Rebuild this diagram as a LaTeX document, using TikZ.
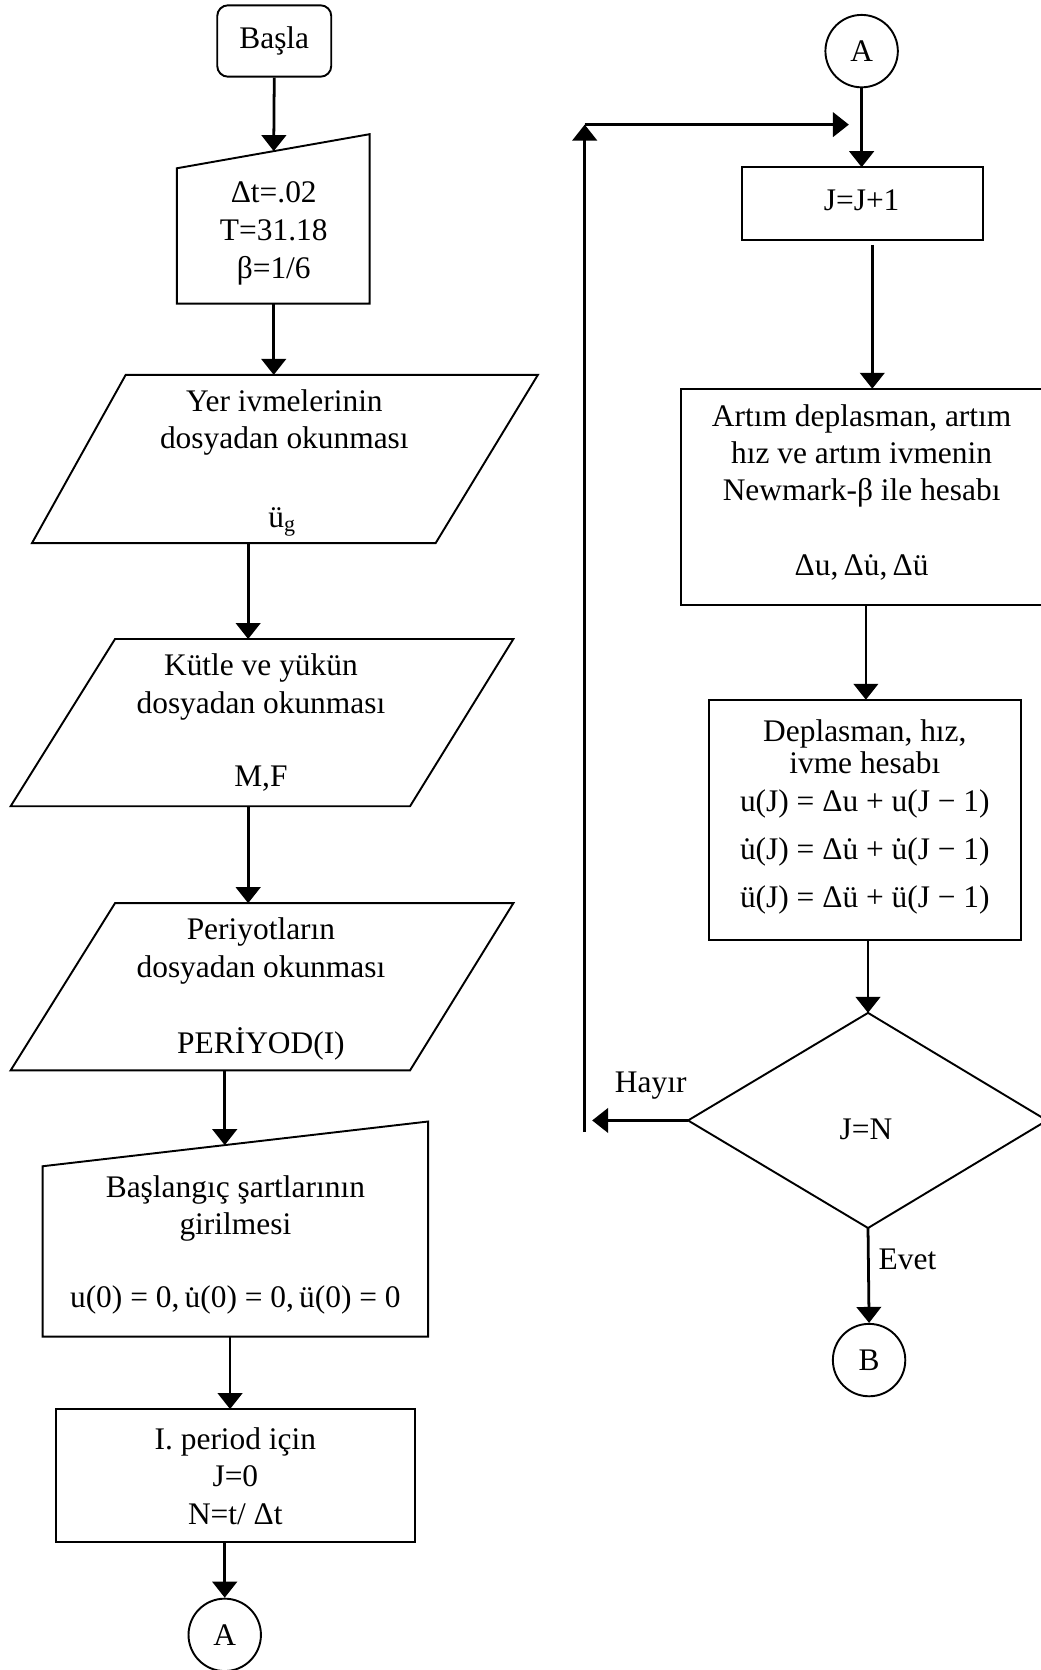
\documentclass[tikz,border=0pt]{standalone}
\usepackage{fontspec}
\setmainfont{Liberation Serif}
\usetikzlibrary{arrows.meta}
\begin{document}
\begin{tikzpicture}[x=0.5pt,y=-0.5pt,
  shp/.style={draw, line width=0.9pt},
  arr/.style={line width=1.3pt, -{Triangle[width=11.5pt,length=7.5pt]}},
  ln/.style={line width=1.3pt},
  txt/.style={align=center, inner sep=0pt, font=\fontsize{14.75pt}{17.5pt}\selectfont},
  circ/.style={draw, circle, line width=0.9pt, minimum size=34pt, inner sep=0pt, font=\fontsize{14.75pt}{17.5pt}\selectfont},
]
\useasboundingbox (0,0) rectangle (977,1568);

% ---------- left column ----------
\node[draw, rounded corners=5pt, line width=0.9pt, minimum width=53.5pt, minimum height=33.5pt, txt] (basla) at (257.5,38.5) {Başla};

% manual input 1
\draw[shp] (166,158) -- (347,126) -- (347,285) -- (166,285) -- cycle;
\coordinate (m1in) at (257,141.9);
\coordinate (m1out) at (257,285);
\node[txt, font=\fontsize{14.75pt}{17.75pt}\selectfont] (m1) at (257,219) {Δt=.02\\T=31.18\\β=1/6};

% Yer parallelogram
\draw[shp] (118,352) -- (505,352) -- (409,510) -- (30,510) -- cycle;
\coordinate (p1in) at (257,352);
\coordinate (p1out) at (233,510);
\node[txt] (p1t) at (267,397) {Yer ivmelerinin\\dosyadan okunması};
\node[txt] (p1v) at (265,490) {ü\textsubscript{g}};

% Kutle parallelogram
\draw[shp] (108,600) -- (482,600) -- (385,757) -- (10,757) -- cycle;
\coordinate (p2in) at (233,600);
\coordinate (p2out) at (233,757);
\node[txt] (p2t) at (245,645) {Kütle ve yükün\\dosyadan okunması};
\node[txt] (p2v) at (245,731) {M,F};

% Periyot parallelogram
\draw[shp] (108,848) -- (482,848) -- (385,1005) -- (10,1005) -- cycle;
\coordinate (p3in) at (233,848);
\coordinate (p3out) at (211,1005);
\node[txt] (p3t) at (245,893) {Periyotların\\dosyadan okunması};
\node[txt] (p3v) at (245,980) {PERİYOD(I)};

% manual input 2
\draw[shp] (40,1095) -- (402,1053) -- (402,1255) -- (40,1255) -- cycle;
\coordinate (m2in) at (211,1075.2);
\coordinate (m2out) at (216,1255);
\node[txt] (m2t) at (221,1135) {Başlangıç şartlarının\\girilmesi};
\node[txt] (m2v) at (221,1221) {u(0) = 0,\,u̇(0) = 0,\,ü(0) = 0};

% I. period box
\node[draw, line width=0.9pt, minimum width=168.5pt, minimum height=62.5pt, txt] (per) at (221.5,1385.5) {};
\coordinate (perin) at (216,1323);
\coordinate (perout) at (211,1448);
\node[txt] (pert) at (221,1386) {I. period için\\J=0\\N=t/ Δt};

\node[circ] (A1) at (211,1535) {A};

\draw[arr] (basla.south) -- (m1in);
\draw[arr] (m1out) -- (p1in);
\draw[arr] (p1out) -- (p2in);
\draw[arr] (p2out) -- (p3in);
\draw[arr] (p3out) -- (m2in);
\draw[arr] (m2out) -- (perin);
\draw[arr] (perout) -- (A1.north);

% ---------- right column ----------
\node[circ] (A2) at (809,48) {A};

\node[draw, line width=0.9pt, minimum width=113pt, minimum height=34pt, txt] (jj) at (810,191) {};
\node[txt] (jjt) at (809,188) {J=J+1};
\coordinate (jjin) at (809,157);
\coordinate (jjout) at (819,230);

% Artim box (cut at the right border)
\draw[shp] (995,365) -- (639,365) -- (639,568) -- (995,568);
\coordinate (arin) at (819,365);
\coordinate (arout) at (813,568);
\node[txt] (art) at (809,428) {Artım deplasman, artım\\hız ve artım ivmenin\\Newmark-β ile hesabı};
\node[txt] (arv) at (809,533) {Δu,\,Δu̇,\,Δü};

% Deplasman box
\draw[shp] (666,657) rectangle (959,883);
\coordinate (dpin) at (813,657);
\coordinate (dpout) at (815,883);
\node[txt, font=\fontsize{14.75pt}{15pt}\selectfont] (dpt) at (812,701) {Deplasman, hız,\\ivme hesabı};
\node[txt] (dpe1) at (812,755) {u(J) = Δu + u(J − 1)};
\node[txt] (dpe2) at (812,800) {u̇(J) = Δu̇ + u̇(J − 1)};
\node[txt] (dpe3) at (812,845) {ü(J) = Δü + ü(J − 1)};

% decision
\draw[shp] (815,951) -- (983,1052) -- (815,1153) -- (646,1052) -- cycle;
\coordinate (dtop) at (815,951);
\coordinate (dleft) at (646,1052);
\coordinate (dbot) at (815,1153);
\node[txt] (jn) at (813,1060) {J=N};

\node[circ] (B) at (816,1277) {B};

\coordinate (hayirtip) at (556,1052);
\coordinate (loopbot) at (549,1063);
\coordinate (looptop) at (549,117);
\coordinate (loopend) at (797,117);

\draw[arr] (A2.south) -- (jjin);
\draw[arr] (jjout) -- (arin);
\draw[arr] (arout) -- (dpin);
\draw[arr] (dpout) -- (dtop);
\draw[arr] (dleft) -- (hayirtip);
\draw[arr] (dbot) -- (B.north);
\draw[arr] (loopbot) -- (looptop);
\draw[arr] (looptop) -- (loopend);

\node[txt] (hayir) at (611,1019) {Hayır};
\node[txt] (evet) at (852,1182) {Evet};
\end{tikzpicture}
\end{document}
